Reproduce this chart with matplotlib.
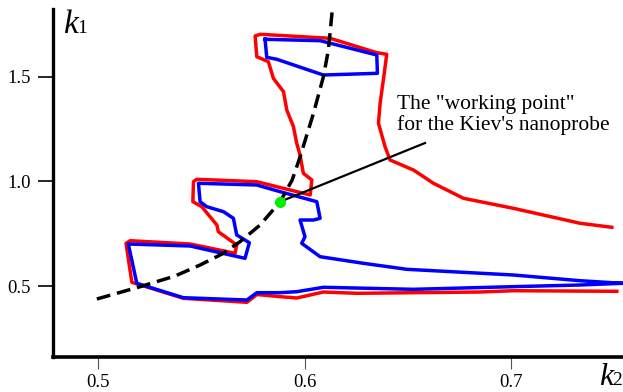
import matplotlib
matplotlib.use('Agg')
import matplotlib.pyplot as plt

# ---- data (k2 = x, k1 = y) ----
red_k2 = [0.7509, 0.7009, 0.6848, 0.6252, 0.6091, 0.5962, 0.5882, 0.5769, 0.5721,
          0.5414, 0.5165, 0.5137, 0.5157, 0.5447, 0.5664, 0.5672, 0.5583, 0.5576,
          0.5543, 0.5503, 0.5460, 0.5463, 0.5479, 0.5769, 0.6027, 0.6035, 0.5994,
          0.5978, 0.5962, 0.5946, 0.5914, 0.5898, 0.5849, 0.5825, 0.5769, 0.5761,
          0.5785, 0.6123, 0.6349, 0.6397, 0.6384, 0.6365, 0.6357, 0.6389, 0.6413,
          0.6526, 0.6623, 0.6768, 0.7009, 0.7332, 0.7485]
red_k1 = [0.4747, 0.4775, 0.4713, 0.4651, 0.4713, 0.4427, 0.4489, 0.4594, 0.4221,
          0.4412, 0.5177, 0.7040, 0.7164, 0.7007, 0.6562, 0.6959, 0.7594, 0.7914,
          0.8311, 0.8789, 0.9028, 0.9983, 1.0098, 0.9983, 0.9348, 1.0065, 1.0385,
          1.1259, 1.1818, 1.2611, 1.3409, 1.4283, 1.4924, 1.5717, 1.5956, 1.6945,
          1.7026, 1.6835, 1.6147, 1.6070, 1.5081, 1.3729, 1.2773, 1.1655, 1.1020,
          1.0542, 0.9907, 0.9190, 0.8712, 0.7996, 0.7805]

blue_low_k2 = [0.7533, 0.7332, 0.6945, 0.6526, 0.6091, 0.5962, 0.5882, 0.5769, 0.5721,
               0.5414, 0.5189, 0.5148, 0.5447, 0.5712, 0.5733, 0.5672, 0.5656, 0.5608,
               0.5527, 0.5495, 0.5487, 0.5769, 0.5882, 0.6059, 0.6075, 0.6043, 0.5978,
               0.6002, 0.5986, 0.6075, 0.6284, 0.6494, 0.7009, 0.7332, 0.7533]
blue_low_k1 = [0.5129, 0.5048, 0.4952, 0.4842, 0.4938, 0.4728, 0.4680, 0.4680, 0.4331,
               0.4441, 0.5129, 0.7007, 0.6911, 0.6323, 0.7069, 0.7437, 0.8234, 0.8550,
               0.8789, 0.9028, 0.9907, 0.9826, 0.9505, 0.9028, 0.8235, 0.8153, 0.8153,
               0.7355, 0.7040, 0.6400, 0.6085, 0.5798, 0.5526, 0.5253, 0.5129]

blue_up_k2 = [0.5809, 0.6075, 0.6349, 0.6352, 0.6091, 0.6043, 0.5866, 0.5817, 0.5809]
blue_up_k1 = [1.6787, 1.6720, 1.6037, 1.5162, 1.5081, 1.5239, 1.5831, 1.5927, 1.6787]

dash_k2 = [0.4996, 0.5205, 0.5374, 0.5495, 0.5601, 0.5688, 0.5785, 0.5882, 0.5940,
           0.5978, 0.6043, 0.6091, 0.6115, 0.6133]
dash_k1 = [0.4379, 0.4967, 0.5478, 0.6003, 0.6529, 0.7117, 0.7914, 0.9028, 1.0065,
           1.1163, 1.3251, 1.5000, 1.6276, 1.8091]

work_k2, work_k1 = 0.5882, 0.9028
label_k2, label_k1 = 0.6582, 1.1832
note_k2, note_k1 = 0.6445, 1.412
note_text = 'The "working point"\nfor the Kiev\'s nanoprobe'

x_ticks = [0.5, 0.6, 0.7]
x_tick_labels = ['0.5', '0.6', '0.7']
y_ticks = [0.5, 1.0, 1.5]
y_tick_labels = ['0.5', '1.0', '1.5']

SERIF = 'Liberation Serif'
plt.rcParams['font.family'] = [SERIF, 'DejaVu Serif']

W, H = 623, 392
fig = plt.figure(figsize=(W / 100, H / 100), dpi=100)
ax = fig.add_axes([53 / W, 35 / H, 570 / W, 348 / H])
ax.set_xlim(0.4784, 0.7539)
ax.set_ylim(0.1608, 1.8234)

lw = 2.5
ax.plot(red_k2, red_k1, color='#ff0000', lw=lw, solid_joinstyle='round', zorder=2)
ax.plot(blue_low_k2, blue_low_k1, color='#0000ff', lw=lw, solid_joinstyle='round', zorder=3, clip_on=False)
ax.plot(blue_up_k2, blue_up_k1, color='#0000ff', lw=lw, solid_joinstyle='round', zorder=3)
ax.plot(dash_k2, dash_k1, color='black', lw=2.5, linestyle=(0, (4, 2)), zorder=4)
ax.plot([work_k2, label_k2], [work_k1, label_k1], color='black', lw=1.6, zorder=5)
ax.plot([work_k2], [work_k1], 'o', color='#00ee00', markersize=8, markeredgewidth=0, zorder=6)

ax.text(note_k2, note_k1, note_text, fontsize=15.5, family=SERIF, va='top', ha='left',
        linespacing=1.08)

for s in ['top', 'right']:
    ax.spines[s].set_visible(False)
ax.spines['left'].set_linewidth(2.4)
ax.spines['bottom'].set_linewidth(2.6)

ax.set_xticks(x_ticks)
ax.set_xticklabels(x_tick_labels)
ax.set_yticks(y_ticks)
ax.set_yticklabels(y_tick_labels)
ax.tick_params(axis='x', direction='out', length=8.5, width=0.8, color='#555555',
               pad=3.5, labelsize=13.5)
ax.tick_params(axis='y', direction='out', length=11, width=1.2, color='black',
               pad=5, labelsize=13.5)

# axis names
fig.text(63 / W, 1 - 33.3 / H, 'k', fontsize=24, style='italic', family=SERIF, va='baseline')
fig.text(77 / W, 1 - 33.3 / H, '1', fontsize=14, family=SERIF, va='baseline')
fig.text(599 / W, 1 - 385 / H, 'k', fontsize=23, style='italic', family=SERIF, va='baseline')
fig.text(612 / W, 1 - 385 / H, '2', fontsize=14, family=SERIF, va='baseline')

fig.savefig('out.png', dpi=100)
